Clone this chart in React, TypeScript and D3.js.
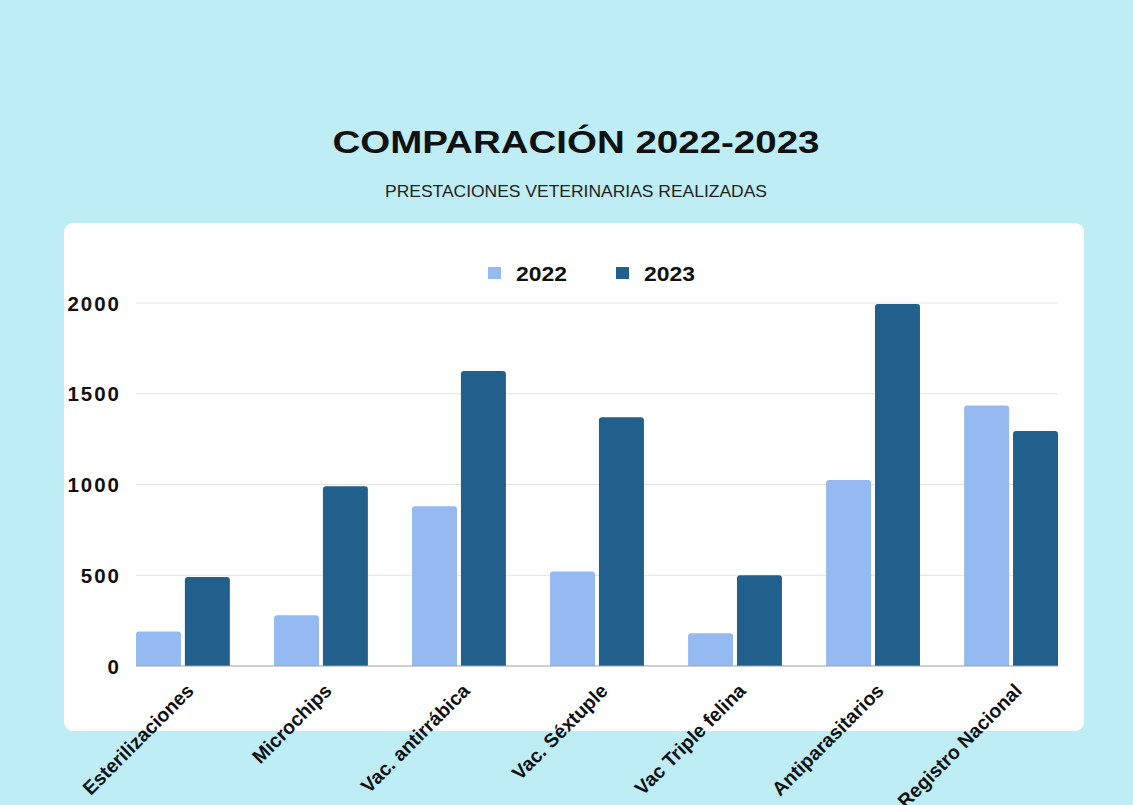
import React from "react";
import * as d3 from "d3";

const categories = [
  "Esterilizaciones",
  "Microchips",
  "Vac. antirrábica",
  "Vac. Séxtuple",
  "Vac Triple felina",
  "Antiparasitarios",
  "Registro Nacional",
];
const seriesNames = ["2022", "2023"];
const values2022 = [190, 280, 880, 520, 180, 1025, 1435];
const values2023 = [490, 990, 1625, 1370, 500, 1995, 1295];
const yTicks = [0, 500, 1000, 1500, 2000];
const colors = ["#95BAF2", "#21608C"];

const W = 1133;
const H = 805;
const FONT = "Liberation Sans, Arial, sans-serif";

function topRoundedRect(x: number, y: number, w: number, h: number, r: number) {
  const rr = Math.min(r, h, w / 2);
  return `M${x},${y + h}V${y + rr}Q${x},${y} ${x + rr},${y}H${x + w - rr}Q${x + w},${y} ${x + w},${y + rr}V${y + h}Z`;
}

export default function App() {
  const series = [values2022, values2023];
  const x0 = d3.scaleBand<string>().domain(categories).range([136, 1058]).paddingInner(0.32).paddingOuter(0);
  const x1 = d3.scaleBand<string>().domain(seriesNames).range([0, x0.bandwidth()]).paddingInner(0.08);
  const y = d3.scaleLinear().domain([0, 2000]).range([666, 303]);

  return (
    <svg width={W} height={H} style={{ position: "absolute", left: 0, top: 0 }}>
      <rect x={0} y={0} width={W} height={H} fill="#BEEDF5" />
      <text
        x={576}
        y={153}
        textAnchor="middle"
        fontFamily={FONT}
        fontWeight={700}
        fontSize={31}
        fill="#111"
        textLength={487}
        lengthAdjust="spacingAndGlyphs"
      >
        COMPARACIÓN 2022-2023
      </text>
      <text
        x={576}
        y={197}
        textAnchor="middle"
        fontFamily={FONT}
        fontSize={16.5}
        fill="#222"
        textLength={382}
        lengthAdjust="spacingAndGlyphs"
      >
        PRESTACIONES VETERINARIAS REALIZADAS
      </text>
      <rect x={64} y={223} width={1020} height={508} rx={9} fill="#FFFFFF" />

      {/* legend */}
      {seriesNames.map((s, i) => {
        const lx = [488, 616][i];
        return (
          <g key={s}>
            <rect x={lx} y={267} width={13} height={12} fill={colors[i]} />
            <text
              x={lx + 28}
              y={281}
              fontFamily={FONT}
              fontWeight={700}
              fontSize={21}
              fill="#111"
              textLength={51}
              lengthAdjust="spacingAndGlyphs"
            >
              {s}
            </text>
          </g>
        );
      })}

      {/* gridlines & y labels */}
      {yTicks.map((t) => (
        <g key={t}>
          {t > 0 && <line x1={136} x2={1058} y1={y(t)} y2={y(t)} stroke="#E2E2E2" strokeWidth={1} />}
          <text
            x={121}
            y={y(t) + 7.5}
            textAnchor="end"
            fontFamily={FONT}
            fontWeight={700}
            fontSize={20.5}
            letterSpacing={2}
            fill="#111"
          >
            {t}
          </text>
        </g>
      ))}

      {/* bars */}
      {categories.map((c, ci) => (
        <g key={c} transform={`translate(${x0(c)},0)`}>
          {series.map((vals, si) => {
            const v = vals[ci];
            const bx = x1(seriesNames[si]) as number;
            return (
              <path
                key={si}
                d={topRoundedRect(bx, y(v), x1.bandwidth(), y(0) - y(v), 3)}
                fill={colors[si]}
              />
            );
          })}
        </g>
      ))}
      <line x1={136} x2={1058} y1={y(0)} y2={y(0)} stroke="#A0A0A0" strokeWidth={1} />

      {/* x labels */}
      {categories.map((c) => {
        const cx = (x0(c) as number) + x0.bandwidth() / 2 + 12;
        const cy = 692;
        return (
          <text
            key={c}
            transform={`translate(${cx},${cy}) rotate(-45)`}
            textAnchor="end"
            fontFamily={FONT}
            fontWeight={700}
            fontSize={19.5}
            fill="#111"
          >
            {c}
          </text>
        );
      })}
    </svg>
  );
}
